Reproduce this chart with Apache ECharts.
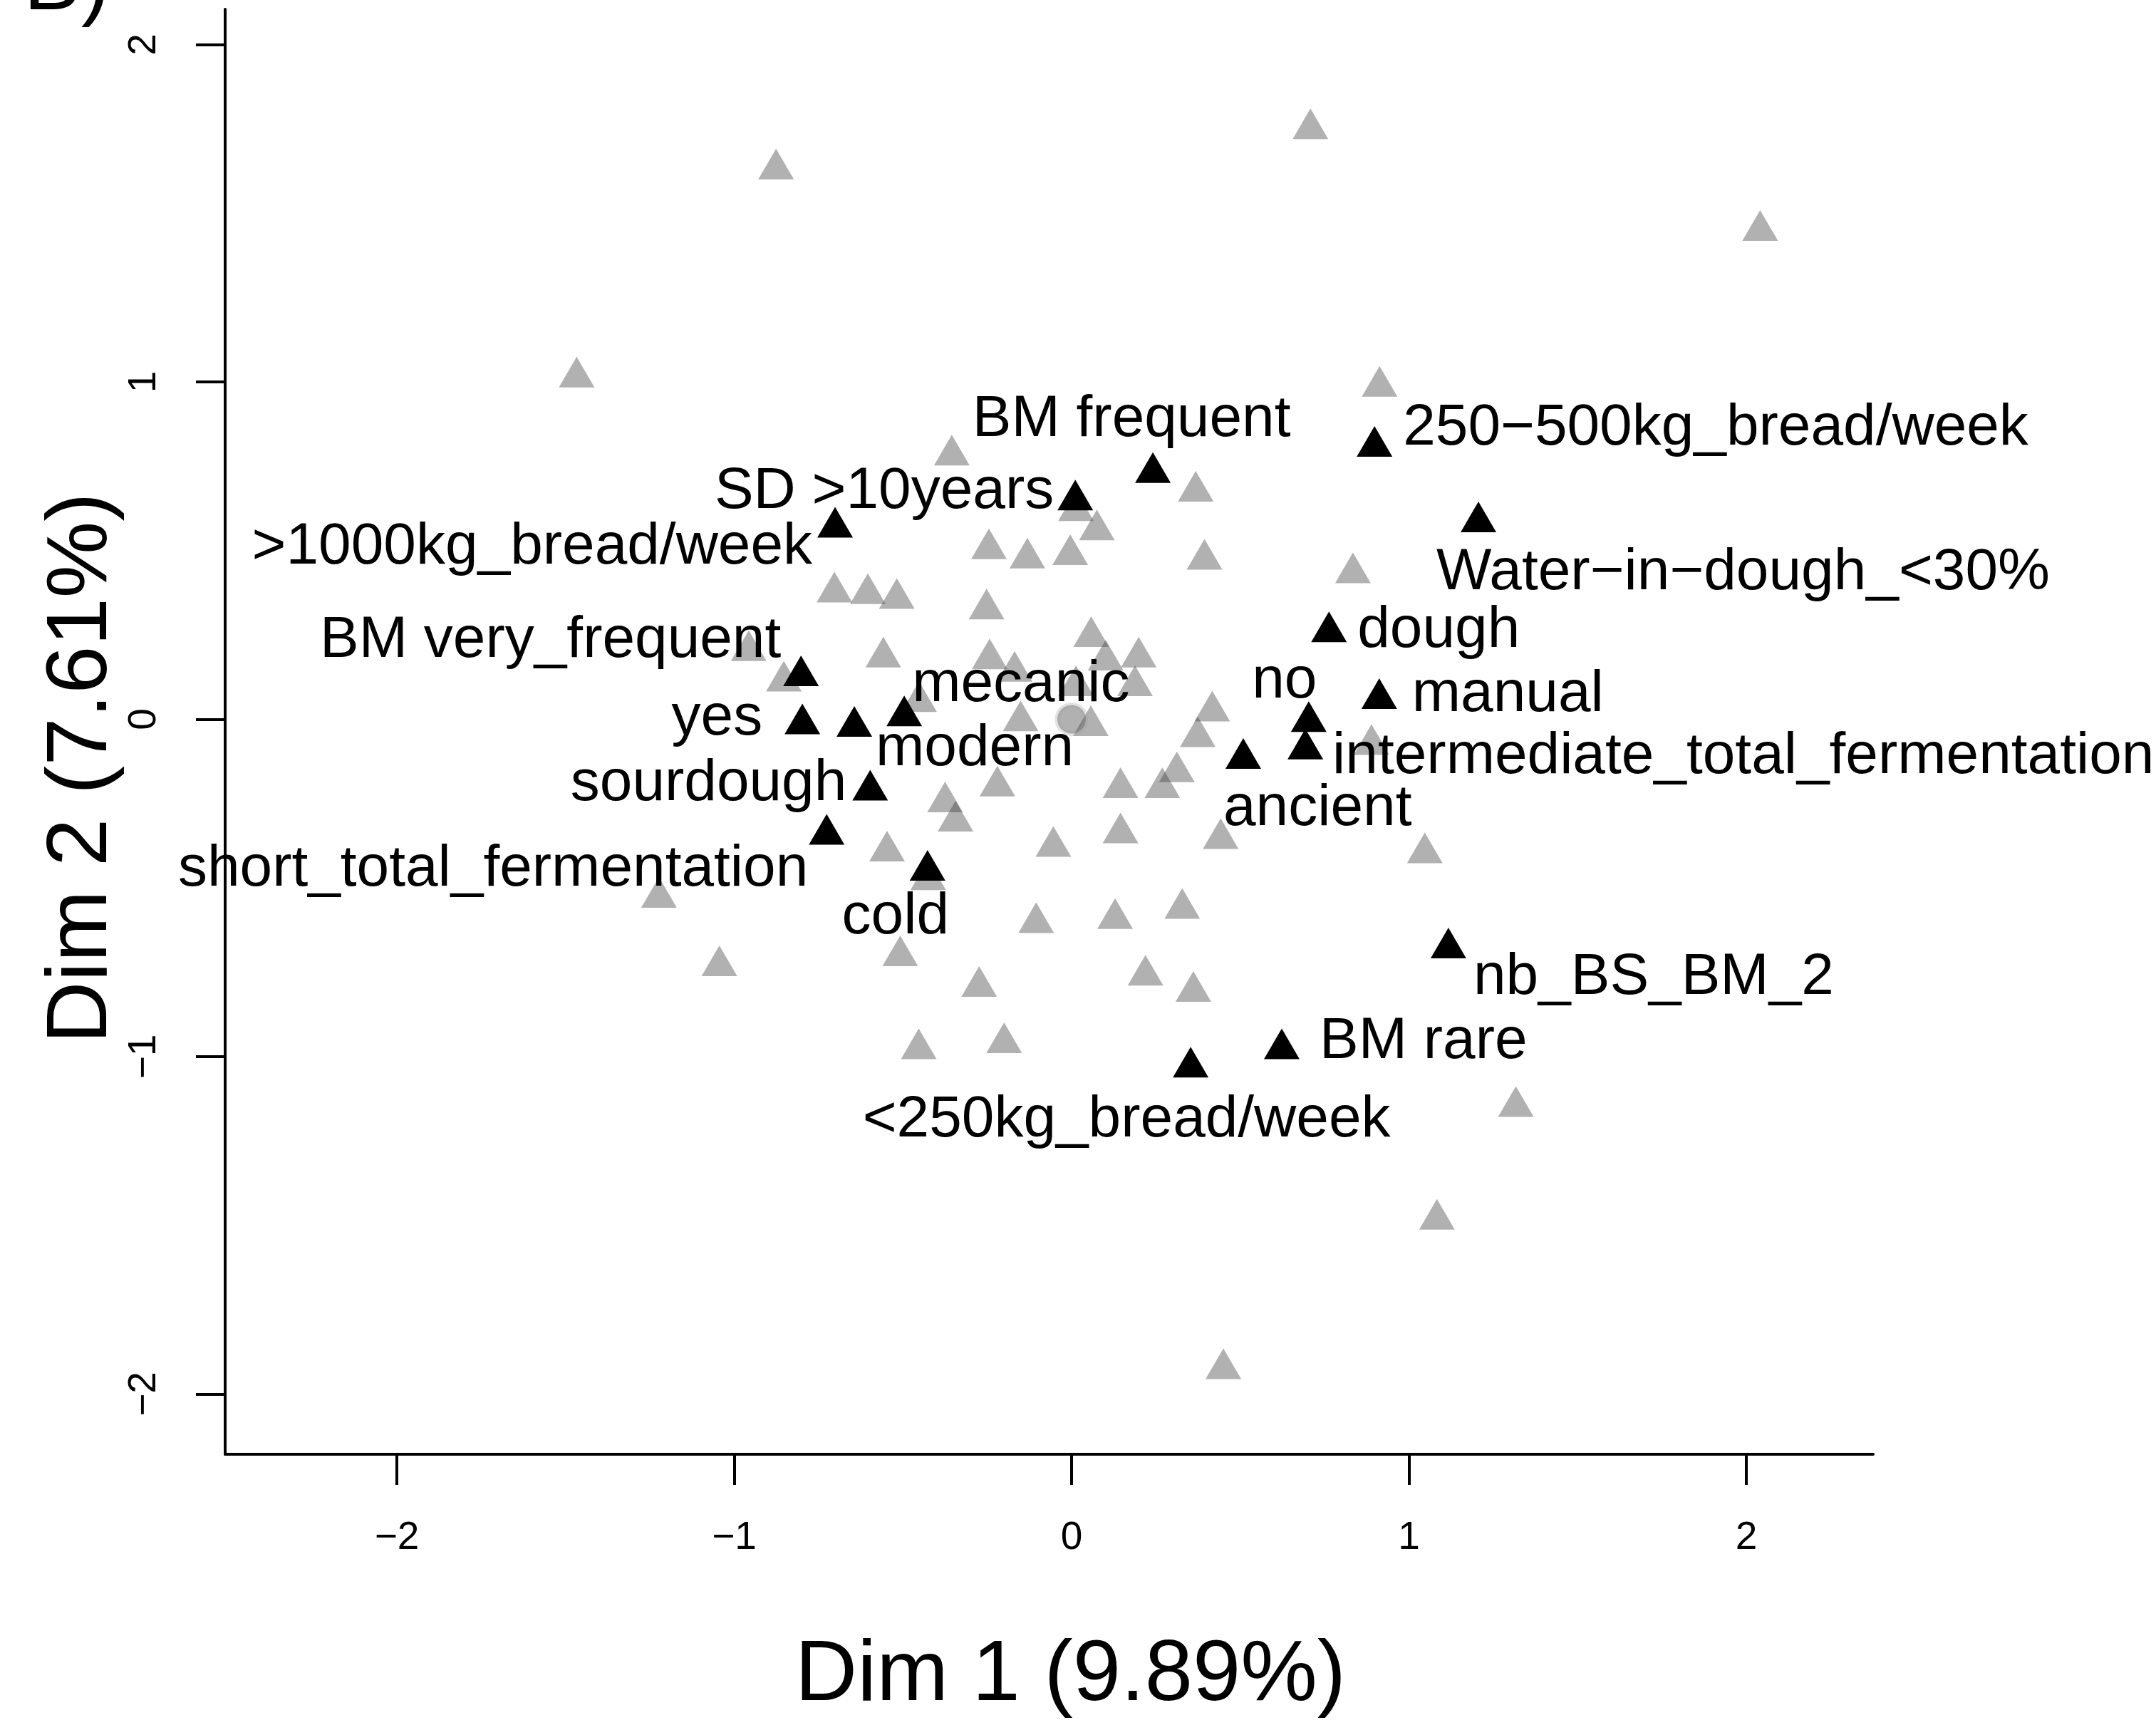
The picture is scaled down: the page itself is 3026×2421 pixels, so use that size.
<!DOCTYPE html>
<html>
<head>
<meta charset="utf-8">
<script src="https://cdn.jsdelivr.net/npm/echarts@6/dist/echarts.min.js"></script>
<style>
html,body{margin:0;padding:0;background:#fff;}
#chart{width:3026px;height:2421px;}
</style>
</head>
<body>
<div id="chart"></div>
<script>
// tick values on both axes
var xTicks = [-2, -1, 0, 1, 2];
var yTicks = [-2, -1, 0, 1, 2];

// individuals (grey triangles), [Dim 1, Dim 2]
var individuals = [
  [-0.245, 0.505], [-0.131, 0.478], [-0.004, 0.488], [0.394, 0.474], [0.834, 0.434],
  [-0.703, 0.377], [-0.604, 0.372], [-0.518, 0.358], [-0.252, 0.327], [0.058, 0.245],
  [-0.558, 0.184], [-0.957, 0.203], [-0.853, 0.113], [-0.243, 0.179], [-0.169, 0.142],
  [0.101, 0.175], [0.199, 0.184], [0.188, 0.099], [0.013, 0.099], [-0.452, 0.052],
  [-0.151, -0.005], [0.057, -0.019], [0.417, 0.024], [0.374, -0.052], [0.889, -0.075],
  [-0.220, -0.198], [-0.375, -0.245], [-0.344, -0.302], [0.145, -0.203], [0.269, -0.203],
  [0.312, -0.156], [-0.054, -0.377], [0.145, -0.337], [0.442, -0.354], [-0.547, -0.391],
  [-0.425, -0.476], [1.047, -0.396], [-0.105, -0.603], [0.129, -0.591], [0.328, -0.561],
  [-0.508, -0.701], [-1.044, -0.731], [-0.274, -0.792], [0.219, -0.759], [0.361, -0.807],
  [-0.876, 1.631], [-1.467, 1.014], [-0.355, 0.783], [0.708, 1.750], [2.041, 1.449],
  [0.913, 0.987], [0.368, 0.676], [0.075, 0.561], [0.013, 0.618],
  [-1.223, -0.528], [-0.200, -0.959], [-0.453, -0.977], [1.317, -1.148], [1.083, -1.482],
  [0.450, -1.925]
];

// categories (black triangles)
var catNames = ['BM frequent', '250\u2212500kg_bread/week', 'SD >10years', '>1000kg_bread/week',
  'Water\u2212in\u2212dough_<30%', 'dough', 'BM very_frequent', 'manual', 'no', 'yes',
  'mecanic', 'modern', 'intermediate_total_fermentation', 'ancient', 'sourdough',
  'short_total_fermentation', 'cold', 'nb_BS_BM_2', 'BM rare', '<250kg_bread/week'];
var catX = [0.241, 0.898, 0.011, -0.701, 1.206, 0.763, -0.802, 0.912, 0.703, -0.798,
  -0.496, -0.644, 0.693, 0.509, -0.597, -0.726, -0.427, 1.117, 0.623, 0.353];
var catY = [0.731, 0.809, 0.650, 0.569, 0.585, 0.259, 0.129, 0.061, -0.007, -0.014,
  0.010, -0.021, -0.088, -0.116, -0.210, -0.341, -0.448, -0.678, -0.977, -1.031];

// where each label sits: text anchor and pixel shift from its point
var labAlign = ['center', 'left', 'right', 'right', 'left', 'left', 'right', 'left', 'center', 'right',
  'left', 'left', 'left', 'left', 'right', 'right', 'center', 'left', 'left', 'center'];
var labDx = [-30, 40, -30, -32, -59, 40, -28, 46, -34, -56, 11, 30, 38, -28, -33, -26, -45, 35, 53, -90];
var labDy = [-81, -32, -18, 21, 65, -8, -56, -12, -63, -15, -50, 25, 4, 64, -16, 42, 59, 35, -17, 68];

var FONT = '"Liberation Sans", Arial, Helvetica, sans-serif';
var TRI = [50, 43];
var TRI_OFF = [0, -7]; // R puts the triangle's centroid on the point, not its box centre
var LAB_NUDGE = 7;     // canvas 'middle' sits a bit high vs R's text centre

function minus(v) { return String(v).replace('-', '\u2212'); }

var catData = catNames.map(function (n, i) {
  return {
    name: n,
    value: [catX[i], catY[i]],
    label: { align: labAlign[i], offset: [labDx[i] - TRI_OFF[0], labDy[i] - TRI_OFF[1] + LAB_NUDGE] }
  };
});

var chart = echarts.init(document.getElementById('chart'));
chart.setOption({
  animation: false,
  backgroundColor: '#fff',
  grid: { left: 316, top: 13, width: 2313, height: 2028, containLabel: false },
  xAxis: {
    type: 'value', min: -2.509, max: 2.376,
    name: 'Dim 1 (9.89%)', nameLocation: 'middle', nameGap: 251, nameMoveOverlap: false,
    nameTextStyle: { fontFamily: FONT, fontSize: 121, color: '#000', padding: [0, 0, 0, 60] },
    axisLine: { show: true, onZero: false, lineStyle: { color: '#000', width: 4 } },
    axisTick: { show: true, length: 43, customValues: xTicks, lineStyle: { color: '#000', width: 4 } },
    axisLabel: { customValues: xTicks, formatter: minus, margin: 90, fontFamily: FONT, fontSize: 55, color: '#000' },
    splitLine: { show: false }
  },
  yAxis: {
    type: 'value', min: -2.1785, max: 2.1045,
    name: 'Dim 2 (7.61%)', nameLocation: 'middle', nameGap: 140, nameMoveOverlap: false,
    nameTextStyle: { fontFamily: FONT, fontSize: 121, color: '#000', padding: [0, 102, 0, 0] },
    axisLine: { show: true, onZero: false, lineStyle: { color: '#000', width: 4 } },
    axisTick: { show: true, length: 41, customValues: yTicks, lineStyle: { color: '#000', width: 4 } },
    axisLabel: { customValues: yTicks, formatter: minus, rotate: 90, margin: 86, fontFamily: FONT, fontSize: 55, color: '#000' },
    splitLine: { show: false }
  },
  graphic: [{
    type: 'text', x: 33, y: -20,
    style: { text: 'B)', fontFamily: FONT, fontSize: 121, fill: '#000', verticalAlign: 'middle', textVerticalAlign: 'middle' }
  }],
  series: [
    {
      type: 'scatter', data: individuals, symbol: 'triangle', symbolSize: TRI, symbolOffset: TRI_OFF,
      itemStyle: { color: 'rgba(60,60,60,0.4)', opacity: 1 }, silent: true, z: 1
    },
    {
      type: 'scatter', data: [[0, 0]], symbol: 'circle', symbolSize: 40,
      itemStyle: { color: 'rgba(60,60,60,0.4)', borderColor: 'rgba(160,160,160,0.3)', borderWidth: 7, opacity: 1 },
      silent: true, z: 1
    },
    {
      type: 'scatter', data: catData, symbol: 'triangle', symbolSize: TRI, symbolOffset: TRI_OFF,
      itemStyle: { color: '#000', opacity: 1 }, silent: true, z: 3,
      label: {
        show: true, position: 'inside', formatter: '{b}', verticalAlign: 'middle',
        fontFamily: FONT, fontSize: 82, color: '#000', opacity: 1
      }
    }
  ]
});
</script>
</body>
</html>
